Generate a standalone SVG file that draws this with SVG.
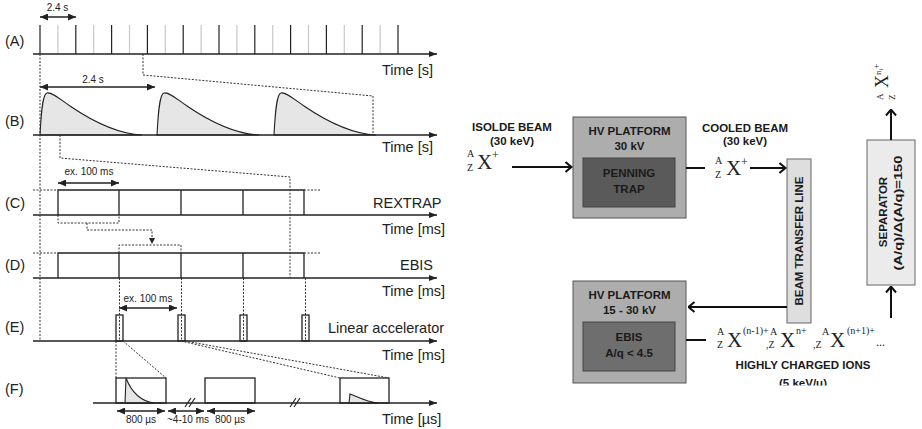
<svg xmlns="http://www.w3.org/2000/svg" width="922" height="429" viewBox="0 0 922 429">
<style>
.ax{stroke:#222;stroke-width:1.3;fill:none}
.tk{stroke:#222;stroke-width:1.2}
.lt{stroke:#c8c8c8;stroke-width:1.2}
.ds{stroke:#333;stroke-width:1;stroke-dasharray:2 1.5;fill:none}
.bx{stroke:#222;stroke-width:1.3;fill:none}
.pl{fill:#e6e6e6;stroke:#222;stroke-width:1.1}
.lbl{font-family:"Liberation Sans",Arial,sans-serif;font-size:14.5px;fill:#222}
.sm{font-family:"Liberation Sans",Arial,sans-serif;font-size:10px;fill:#222;text-anchor:middle}
.dim{stroke:#222;stroke-width:1.3;fill:none}
.b{font-family:"Liberation Sans",Arial,sans-serif;font-weight:bold;font-size:11.5px;fill:#1a1a1a;text-anchor:middle}
.ser{font-family:"Liberation Serif","Times New Roman",serif;fill:#222}
.big{font-size:21px}
.sup{font-size:10px}
.con{stroke:#111;stroke-width:2;fill:none}
.hv{fill:#adadad;stroke:#555;stroke-width:1}
.in{stroke:#444;stroke-width:1}
</style>
<defs>
<marker id="ta" viewBox="0 0 8 6" refX="8" refY="3" markerWidth="8" markerHeight="6" markerUnits="userSpaceOnUse" orient="auto"><path d="M0,0L8,3L0,6z" fill="#222"/></marker>
<marker id="da" viewBox="0 0 8 7" refX="8" refY="3.5" markerWidth="8" markerHeight="7" markerUnits="userSpaceOnUse" orient="auto-start-reverse"><path d="M0,0L8,3.5L0,7z" fill="#222"/></marker>
<marker id="ch" viewBox="0 0 8 12" refX="7.5" refY="6" markerWidth="8" markerHeight="12" markerUnits="userSpaceOnUse" orient="auto"><path d="M1,1L7,6L1,11" fill="none" stroke="#111" stroke-width="2"/></marker>
<clipPath id="cl"><rect x="700" y="370" width="200" height="15.5"/></clipPath>
</defs>

<g id="timing">
<text class="lbl" x="5" y="46">(A)</text>
<text class="lbl" x="5" y="126">(B)</text>
<text class="lbl" x="5" y="208">(C)</text>
<text class="lbl" x="5" y="270">(D)</text>
<text class="lbl" x="5" y="332">(E)</text>
<text class="lbl" x="5" y="394">(F)</text>
<text class="lbl" x="382" y="75">Time [s]</text>
<text class="lbl" x="382" y="152">Time [s]</text>
<text class="lbl" x="382" y="234">Time [ms]</text>
<text class="lbl" x="382" y="296">Time [ms]</text>
<text class="lbl" x="382" y="360">Time [ms]</text>
<text class="lbl" x="382" y="424">Time [µs]</text>
<text class="lbl" x="373" y="208">REXTRAP</text>
<text class="lbl" x="400" y="270">EBIS</text>
<text class="lbl" x="328" y="333">Linear accelerator</text>

<g id="rowA">
<g class="lt">
<line x1="57.9" y1="25" x2="57.9" y2="54"/><line x1="93.7" y1="25" x2="93.7" y2="54"/><line x1="129.5" y1="25" x2="129.5" y2="54"/><line x1="165.3" y1="25" x2="165.3" y2="54"/><line x1="201.1" y1="25" x2="201.1" y2="54"/><line x1="236.9" y1="25" x2="236.9" y2="54"/><line x1="272.7" y1="25" x2="272.7" y2="54"/><line x1="308.5" y1="25" x2="308.5" y2="54"/><line x1="344.3" y1="25" x2="344.3" y2="54"/><line x1="380.1" y1="25" x2="380.1" y2="54"/>
</g>
<g class="tk">
<line x1="40" y1="25" x2="40" y2="54"/><line x1="75.8" y1="25" x2="75.8" y2="54"/><line x1="111.6" y1="25" x2="111.6" y2="54"/><line x1="147.4" y1="25" x2="147.4" y2="54"/><line x1="183.2" y1="25" x2="183.2" y2="54"/><line x1="219" y1="25" x2="219" y2="54"/><line x1="254.8" y1="25" x2="254.8" y2="54"/><line x1="290.6" y1="25" x2="290.6" y2="54"/><line x1="326.4" y1="25" x2="326.4" y2="54"/><line x1="362.2" y1="25" x2="362.2" y2="54"/><line x1="398" y1="25" x2="398" y2="54"/>
</g>
<line class="dim" x1="40" y1="17" x2="76" y2="17" marker-start="url(#da)" marker-end="url(#da)"/>
<text class="sm" x="57.5" y="11">2.4 s</text>
</g>

<g id="rowB">
<path class="pl" d="M40,135 C41,118 42,94 47,93 C52,92 60,99 70,106 C95,123 120,134 142,135 Z"/>
<path class="pl" d="M157,135 C158,118 159,94 164,93 C169,92 177,99 187,106 C212,123 237,134 259,135 Z"/>
<path class="pl" d="M274,135 C275,118 276,94 281,93 C286,92 294,99 304,106 C329,123 354,134 376,135 Z"/>
<line class="dim" x1="40" y1="87" x2="155" y2="87" marker-start="url(#da)" marker-end="url(#da)"/>
<text class="sm" x="93" y="83">2.4 s</text>
</g>

<g id="rowC">
<path class="bx" d="M58,215 V190 H304 V215 M119,190 V215 M181,190 V215 M243,190 V215"/>
<path class="ds" d="M33,190 H58 M304,190 H320"/>
<line class="dim" x1="58" y1="183" x2="119" y2="183" marker-start="url(#da)" marker-end="url(#da)"/>
<text class="sm" x="89" y="175">ex. 100 ms</text>
<path class="ds" d="M58,215 V223 H119 V215 M87,223 V230 H152 V238"/>
<path d="M149,238 L155,238 L152,244 Z" fill="#222"/>
</g>

<g id="rowD">
<path class="bx" d="M58,278 V253 H304 V278 M119,253 V278 M181,253 V278 M243,253 V278"/>
<path class="ds" d="M33,253 H58 M304,253 H320"/>
<path class="ds" d="M119,253 V245 H181 V253"/>
</g>

<g id="rowE">
<rect class="bx" x="116" y="315" width="7" height="26" stroke-width="1"/>
<rect class="bx" x="178" y="315" width="7" height="26" stroke-width="1"/>
<rect class="bx" x="240" y="315" width="7" height="26" stroke-width="1"/>
<rect class="bx" x="302" y="315" width="7" height="26" stroke-width="1"/>
<line class="dim" x1="119" y1="308" x2="177" y2="308" marker-start="url(#da)" marker-end="url(#da)"/>
<text class="sm" x="148" y="302">ex. 100 ms</text>
</g>

<g id="rowF">
<rect class="bx" x="116" y="378" width="50" height="25"/>
<rect class="bx" x="205" y="378" width="50" height="25"/>
<rect class="bx" x="340" y="378" width="49" height="25"/>
<path class="pl" d="M125,403 L126,378 C131,391 140,401 154,403 Z"/>
<path class="pl" d="M349,403 L350,394 C358,397 366,402 378,403 Z"/>
<line class="dim" x1="117" y1="411" x2="165" y2="411" marker-start="url(#da)" marker-end="url(#da)"/>
<line class="dim" x1="168" y1="411" x2="204" y2="411" marker-start="url(#da)" marker-end="url(#da)"/>
<line class="dim" x1="207" y1="411" x2="255" y2="411" marker-start="url(#da)" marker-end="url(#da)"/>
<text class="sm" x="141" y="423">800 µs</text>
<text class="sm" x="188" y="423">~4-10 ms</text>
<text class="sm" x="230" y="423">800 µs</text>
<path d="M185,407 L191,398 M189,407 L195,398 M290,407 L296,398 M294,407 L300,398" stroke="#222" stroke-width="1.2"/>
</g>

<g id="axes">
<line class="ax" x1="33" y1="54" x2="437" y2="54" marker-end="url(#ta)"/>
<line class="ax" x1="33" y1="135" x2="437" y2="135" marker-end="url(#ta)"/>
<line class="ax" x1="33" y1="215" x2="437" y2="215" marker-end="url(#ta)"/>
<line class="ax" x1="33" y1="278" x2="437" y2="278" marker-end="url(#ta)"/>
<line class="ax" x1="33" y1="341" x2="437" y2="341" marker-end="url(#ta)"/>
<line class="ax" x1="93" y1="403" x2="437" y2="403" marker-end="url(#ta)"/>
</g>

<g id="guides" class="ds">
<path d="M40,54 V341"/>
<path d="M143,54 V75 L373,96 V135"/>
<path d="M60,135 V158 L290,177 V278"/>
<path d="M119.5,278 V341 M181.5,278 V341 M243.5,278 V341 M305.5,278 V341"/>
<path d="M116,341 V378 M123,341 L166,378 M181,341 L340,378 M185,341 L389,378"/>
</g>
</g>

<g id="isolde">
<text class="b" x="512" y="131">ISOLDE BEAM</text>
<text class="b" x="512" y="145">(30 keV)</text>
<text class="ser sup" x="467" y="157">A</text>
<text class="ser sup" x="467" y="171">Z</text>
<text class="ser big" x="477" y="169">X</text>
<text class="ser" font-size="12" x="492" y="159">+</text>
</g>

<g id="penning">
<rect class="hv" x="573" y="117" width="113" height="101"/>
<rect class="in" x="583" y="158" width="92" height="49" fill="#5a5a5a"/>
<text class="b" x="629.5" y="135">HV PLATFORM</text>
<text class="b" x="629.5" y="150" font-size="12">30 kV</text>
<text class="b" x="629" y="177">PENNING</text>
<text class="b" x="629" y="193">TRAP</text>
</g>

<g id="cooled">
<text class="b" x="745" y="131.5">COOLED BEAM</text>
<text class="b" x="745" y="145">(30 keV)</text>
<text class="ser sup" x="715" y="164">A</text>
<text class="ser sup" x="715" y="178">Z</text>
<text class="ser big" x="726" y="175">X</text>
<text class="ser" font-size="12" x="741" y="166">+</text>
</g>

<g id="btl">
<rect x="787" y="159" width="24" height="164" fill="#dedede" stroke="#666" stroke-width="1"/>
<text class="b" font-size="11" transform="translate(803,241) rotate(-90)">BEAM TRANSFER LINE</text>
</g>

<g id="ebis">
<rect class="hv" x="573" y="281" width="113" height="102" fill="#b0b0b0"/>
<rect class="in" x="583" y="322" width="92" height="49" fill="#6e6e6e"/>
<text class="b" x="629.5" y="299">HV PLATFORM</text>
<text class="b" x="629.5" y="314" font-size="12">15 - 30 kV</text>
<text class="b" x="629" y="341">EBIS</text>
<text class="b" x="629" y="357" font-size="12">A/q &lt; 4.5</text>
</g>

<g id="ions">
<text class="ser sup" x="717" y="335">A</text>
<text class="ser sup" x="717" y="348">Z</text>
<text class="ser big" x="727" y="347">X</text>
<text class="ser sup" x="743" y="334">(n-1)+</text>
<text class="ser sup" x="770" y="335">A</text>
<text class="ser sup" x="766" y="348">,Z</text>
<text class="ser big" x="780" y="347">X</text>
<text class="ser sup" x="796" y="334">n+</text>
<text class="ser sup" x="813" y="348">,Z</text>
<text class="ser sup" x="822" y="335">A</text>
<text class="ser big" x="830" y="347">X</text>
<text class="ser sup" x="847" y="334">(n+1)+</text>
<text class="ser" font-size="12" x="876" y="346">...</text>
<text class="b" x="803" y="369">HIGHLY CHARGED IONS</text>
<text class="b" x="803" y="386.5" clip-path="url(#cl)">(5 keV/u)</text>
</g>

<g id="separator">
<rect x="867" y="140" width="48" height="145" fill="#ebebeb" stroke="#666" stroke-width="1"/>
<text class="b" transform="translate(887,212) rotate(-90)">SEPARATOR</text>
<text class="b" font-size="13" textLength="115" lengthAdjust="spacingAndGlyphs" transform="translate(902,213) rotate(-90)">(A/q)/Δ(A/q)=150</text>
</g>

<g id="output">
<g transform="translate(888,101) rotate(-90)">
<text class="ser" font-size="9" x="1" y="-5">A</text>
<text class="ser" font-size="9" x="1" y="7">Z</text>
<text class="ser" font-size="18" x="13" y="0">X<tspan font-size="9" dy="-7">n</tspan><tspan font-size="6" dy="2">i</tspan><tspan font-size="9" dy="-4">+</tspan></text>
</g>
</g>

<g id="connectors">
<line class="con" x1="512" y1="167" x2="572" y2="167" marker-end="url(#ch)"/>
<line class="con" x1="686" y1="168" x2="705" y2="168"/>
<line class="con" x1="750" y1="168" x2="786" y2="168" marker-end="url(#ch)"/>
<line class="con" x1="787" y1="307" x2="688" y2="307" marker-end="url(#ch)"/>
<line class="con" x1="686" y1="340" x2="706" y2="340"/>
<line class="con" x1="891" y1="318" x2="891" y2="286" marker-end="url(#ch)"/>
<line class="con" x1="891" y1="140" x2="891" y2="109" marker-end="url(#ch)"/>
</g>
</svg>
